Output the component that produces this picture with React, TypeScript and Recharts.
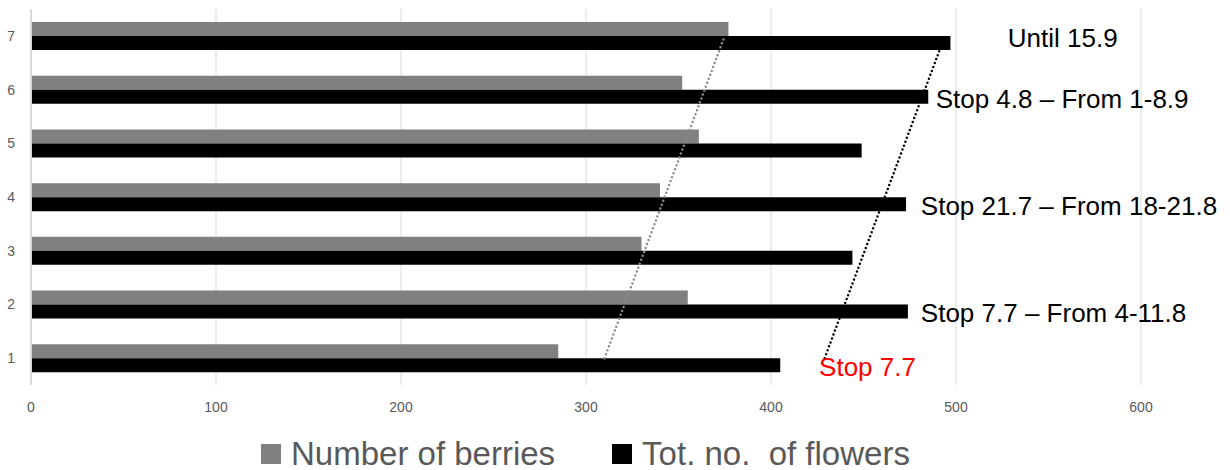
import React from 'react'
import {
    BarChart,
    Bar,
    XAxis,
    YAxis,
    CartesianGrid,
    Legend,
    ReferenceLine,
    ReferenceDot
} from 'recharts'

// categories, bottom to top
const categories = ['1', '2', '3', '4', '5', '6', '7']
const berries = [285, 355, 330, 340, 361, 352, 377]
const flowers = [405, 474, 444, 473, 449, 485, 497]
const xTicks = [0, 100, 200, 300, 400, 500, 600]

// dotted trend lines: value at category 1 and category 7
const trendCats = ['1', '7']
const berryTrend = [310, 375]
const flowerTrend = [429, 494]

// notes next to the bars
const noteTexts = [
    'Until 15.9',
    'Stop 4.8 – From 1-8.9',
    'Stop 21.7 – From 18-21.8',
    'Stop 7.7 – From 4-11.8',
    'Stop 7.7'
]
const noteX = [528, 489, 481, 481, 426]
const noteCats = ['7', '6', '4', '2', '1']

const FONT = '"Liberation Sans", Arial, sans-serif'

const data = categories.map((cat, i) => ({
    cat,
    berries: berries[i],
    flowers: flowers[i]
}))

const legendItems = [
    { name: 'Number of berries', color: '#808080' },
    { name: 'Tot. no.  of flowers', color: '#000000' }
]

const renderLegend = () => (
    <div
        style={{
            display: 'flex',
            alignItems: 'center',
            paddingLeft: 261,
            paddingTop: 16,
            fontFamily: FONT,
            fontSize: 33,
            lineHeight: '36px',
            color: '#595959'
        }}
    >
        {legendItems.map((item, index) => (
            <div key={index} style={{ display: 'flex', alignItems: 'center', marginRight: 57 }}>
                <div style={{ width: 20, height: 20, background: item.color, marginRight: 10 }} />
                <span style={{ whiteSpace: 'pre' }}>{item.name}</span>
            </div>
        ))}
    </div>
)

const App = () => {
    return (
        <div style={{ position: 'absolute', left: 0, top: 0, width: 1230, height: 470, background: '#fff' }}>
            <BarChart
                width={1230}
                height={470}
                data={data}
                layout="vertical"
                barSize={14}
                barGap={0}
                margin={{ top: 9, right: 89, left: 0, bottom: 0 }}
            >
                <CartesianGrid horizontal={false} stroke="#d9d9d9" />
                <XAxis
                    type="number"
                    domain={[0, 600]}
                    ticks={xTicks}
                    axisLine={false}
                    tickLine={false}
                    tickMargin={11}
                    height={35}
                    tick={{ fill: '#595959', fontSize: 14, fontFamily: FONT }}
                />
                <YAxis
                    type="category"
                    dataKey="cat"
                    reversed
                    width={31}
                    tickLine={false}
                    tickMargin={10}
                    axisLine={{ stroke: '#d9d9d9', strokeWidth: 2 }}
                    tick={{ fill: '#595959', fontSize: 14, fontFamily: FONT }}
                />
                <Legend verticalAlign="bottom" height={50} content={renderLegend} />
                <Bar dataKey="berries" name="Number of berries" fill="#808080" isAnimationActive={false} />
                <Bar dataKey="flowers" name="Tot. no.  of flowers" fill="#000000" isAnimationActive={false} />

                {/* round dotted trend lines */}
                <ReferenceLine
                    segment={[
                        { x: berryTrend[0], y: trendCats[0] },
                        { x: berryTrend[1], y: trendCats[1] }
                    ]}
                    stroke="#8c8c8c"
                    strokeWidth={2.5}
                    strokeLinecap="round"
                    strokeDasharray="0 4.2"
                />
                <ReferenceLine
                    segment={[
                        { x: flowerTrend[0], y: trendCats[0] },
                        { x: flowerTrend[1], y: trendCats[1] }
                    ]}
                    stroke="#000000"
                    strokeWidth={2.5}
                    strokeLinecap="round"
                    strokeDasharray="0 4.2"
                />

                {noteTexts.map((text, i) => (
                    <ReferenceDot
                        key={i}
                        x={noteX[i]}
                        y={noteCats[i]}
                        r={0.01}
                        fill="none"
                        stroke="none"
                        label={(props: any) => {
                            const vb = props.viewBox || {}
                            const isTop = noteCats[i] === '7'
                            const isRed = i === noteTexts.length - 1
                            return (
                                <text
                                    x={vb.x}
                                    y={vb.y + (isTop ? 11 : 18)}
                                    fontFamily={FONT}
                                    fontSize={26}
                                    fill={isRed ? '#ff0000' : '#000000'}
                                >
                                    {text}
                                </text>
                            )
                        }}
                    />
                ))}
            </BarChart>
        </div>
    )
}

export default App
